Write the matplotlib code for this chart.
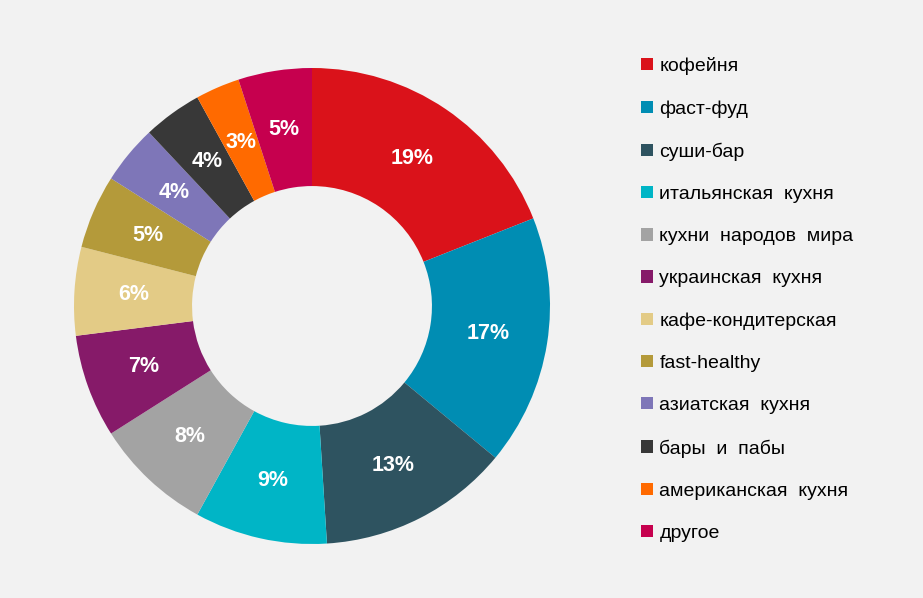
import matplotlib.pyplot as plt
from matplotlib.patches import Patch
from matplotlib import font_manager

labels = ['кофейня', 'фаст-фуд', 'суши-бар', 'итальянская  кухня',
          'кухни  народов  мира', 'украинская  кухня', 'кафе-кондитерская',
          'fast-healthy', 'азиатская  кухня', 'бары  и  пабы',
          'американская  кухня', 'другое']
shares = [19, 17, 13, 9, 8, 7, 6, 5, 4, 4, 3, 5]
colors = ['#DA121A', '#008DB3', '#2E5360', '#00B5C6', '#A3A3A3', '#861A69',
          '#E3CB86', '#B49A3A', '#7E76B8', '#383838', '#FF6A00', '#C6004E']

names = {f.name for f in font_manager.fontManager.ttflist}
font = 'Liberation Sans Narrow' if 'Liberation Sans Narrow' in names else 'Liberation Sans'
plt.rcParams['font.family'] = [font, 'DejaVu Sans']

bg = '#F2F2F2'
fig = plt.figure(figsize=(9.23, 5.98), dpi=100, facecolor=bg)
ax = fig.add_axes([74 / 923, 54 / 598, 476 / 923, 476 / 598])
ax.set_facecolor(bg)

wedges, texts = ax.pie(shares, colors=colors, startangle=90, counterclock=False,
                       radius=1, wedgeprops=dict(width=0.496, linewidth=0),
                       labels=[f'{v}%' for v in shares], labeldistance=0.75,
                       textprops=dict(color='white', fontsize=15.5, fontweight='bold',
                                      ha='center', va='center'))
ax.set_xlim(-1, 1)
ax.set_ylim(-1, 1)
ax.set_aspect('equal')
ax.axis('off')

handles = [Patch(facecolor=c, edgecolor='none') for c in colors]
fig.legend(handles, labels, loc='upper left', bbox_to_anchor=(641 / 923, 1 - 57 / 598),
           frameon=False, fontsize=14, labelspacing=1.29, handlelength=0.6,
           handleheight=0.6, handletextpad=0.35, borderaxespad=0, borderpad=0)

fig.savefig('out.png', dpi=100, facecolor=bg)
